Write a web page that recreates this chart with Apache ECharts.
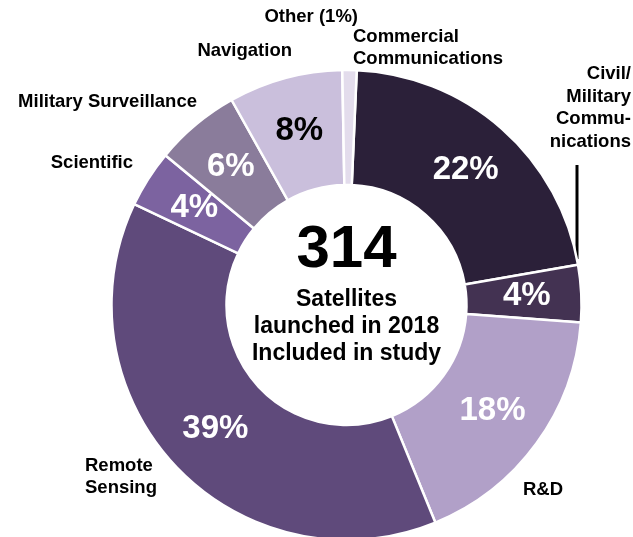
<!DOCTYPE html>
<html>
<head>
<meta charset="utf-8">
<script src="https://cdn.jsdelivr.net/npm/echarts@6/dist/echarts.min.js"></script>
<style>
  html, body { margin: 0; padding: 0; background: #fff; }
  #chart { width: 633px; height: 537px; }
</style>
</head>
<body>
<div id="chart"></div>
<script>
// Satellite purposes, share of launches (percent)
const categories = [
  'Commercial\nCommunications',
  'Civil/\nMilitary\nCommu-\nnications',
  'R&D',
  'Remote\nSensing',
  'Scientific',
  'Military Surveillance',
  'Navigation',
  'Other'
];
const shares = [22, 4, 18, 39, 4, 6, 8, 1];
const sliceColors = ['#2b2039', '#433252', '#b1a0c8', '#5f4a7b', '#7c63a0', '#8a7c9b', '#cabfdc', '#e3dcec'];
const shareTextColors = ['#fff', '#fff', '#fff', '#fff', '#fff', '#fff', '#000', '#000'];
const totalSatellites = 314;
const centerLines = ['Satellites', 'launched in 2018', 'Included in study'];

// where each category name sits around the ring: [x, y, align]
const nameSpots = [
  [353, 48, 'left'],
  [631, 108, 'right'],
  [523, 490, 'left'],
  [85, 477, 'left'],
  [133, 163, 'right'],
  [197, 102, 'right'],
  [292, 51, 'right'],
  [358, 17, 'right']
];

const FONT = "'Liberation Sans', Arial, Helvetica, sans-serif";
const CX = 346.5, CY = 305;
const R_IN = 120, R_OUT = 235;

const chart = echarts.init(document.getElementById('chart'), null, { renderer: 'canvas' });

const ringData = categories.map((c, i) => ({
  name: c,
  value: shares[i],
  itemStyle: { color: sliceColors[i] },
  label: { show: i !== categories.length - 1, color: shareTextColors[i] }
}));

const nameData = categories.map((c, i) => ({ name: c, value: shares[i] }));

chart.setOption({
  animation: false,
  backgroundColor: '#fff',
  series: [
    {
      type: 'pie',
      center: [CX, CY],
      radius: [R_IN, R_OUT],
      startAngle: 87.5,
      clockwise: true,
      avoidLabelOverlap: false,
      silent: true,
      itemStyle: { borderColor: '#fff', borderWidth: 2.5 },
      label: {
        position: 'inside',
        formatter: p => p.value + '%',
        fontFamily: FONT,
        fontSize: 33,
        fontWeight: 'bold'
      },
      labelLine: { show: false },
      data: ringData
    },
    {
      type: 'pie',
      center: [CX, CY],
      radius: [R_IN, R_OUT],
      startAngle: 87.5,
      clockwise: true,
      avoidLabelOverlap: false,
      silent: true,
      itemStyle: { color: 'transparent', borderWidth: 0 },
      label: {
        position: 'outside',
        formatter: p => p.dataIndex === categories.length - 1 ? p.name + ' (' + p.value + '%)' : p.name,
        fontFamily: FONT,
        fontSize: 18.5,
        fontWeight: 'bold',
        lineHeight: 22.5,
        color: '#000'
      },
      labelLine: { show: false },
      labelLayout: params => {
        const s = nameSpots[params.dataIndex];
        return { x: s[0], y: s[1], align: s[2], verticalAlign: 'middle' };
      },
      data: nameData
    }
  ],
  graphic: [
    {
      type: 'text',
      x: CX, y: 250,
      style: {
        text: String(totalSatellites),
        fontFamily: FONT, fontSize: 60, fontWeight: 'bold',
        fill: '#000', align: 'center', verticalAlign: 'middle'
      }
    },
    {
      type: 'text',
      x: CX, y: 327,
      style: {
        text: centerLines.join('\n'),
        fontFamily: FONT, fontSize: 23, fontWeight: 'bold', lineHeight: 27,
        fill: '#000', align: 'center', verticalAlign: 'middle'
      }
    },
    {
      type: 'line',
      shape: { x1: 577, y1: 259, x2: 577, y2: 165 },
      style: { stroke: '#000', lineWidth: 3 }
    }
  ]
});
</script>
</body>
</html>
